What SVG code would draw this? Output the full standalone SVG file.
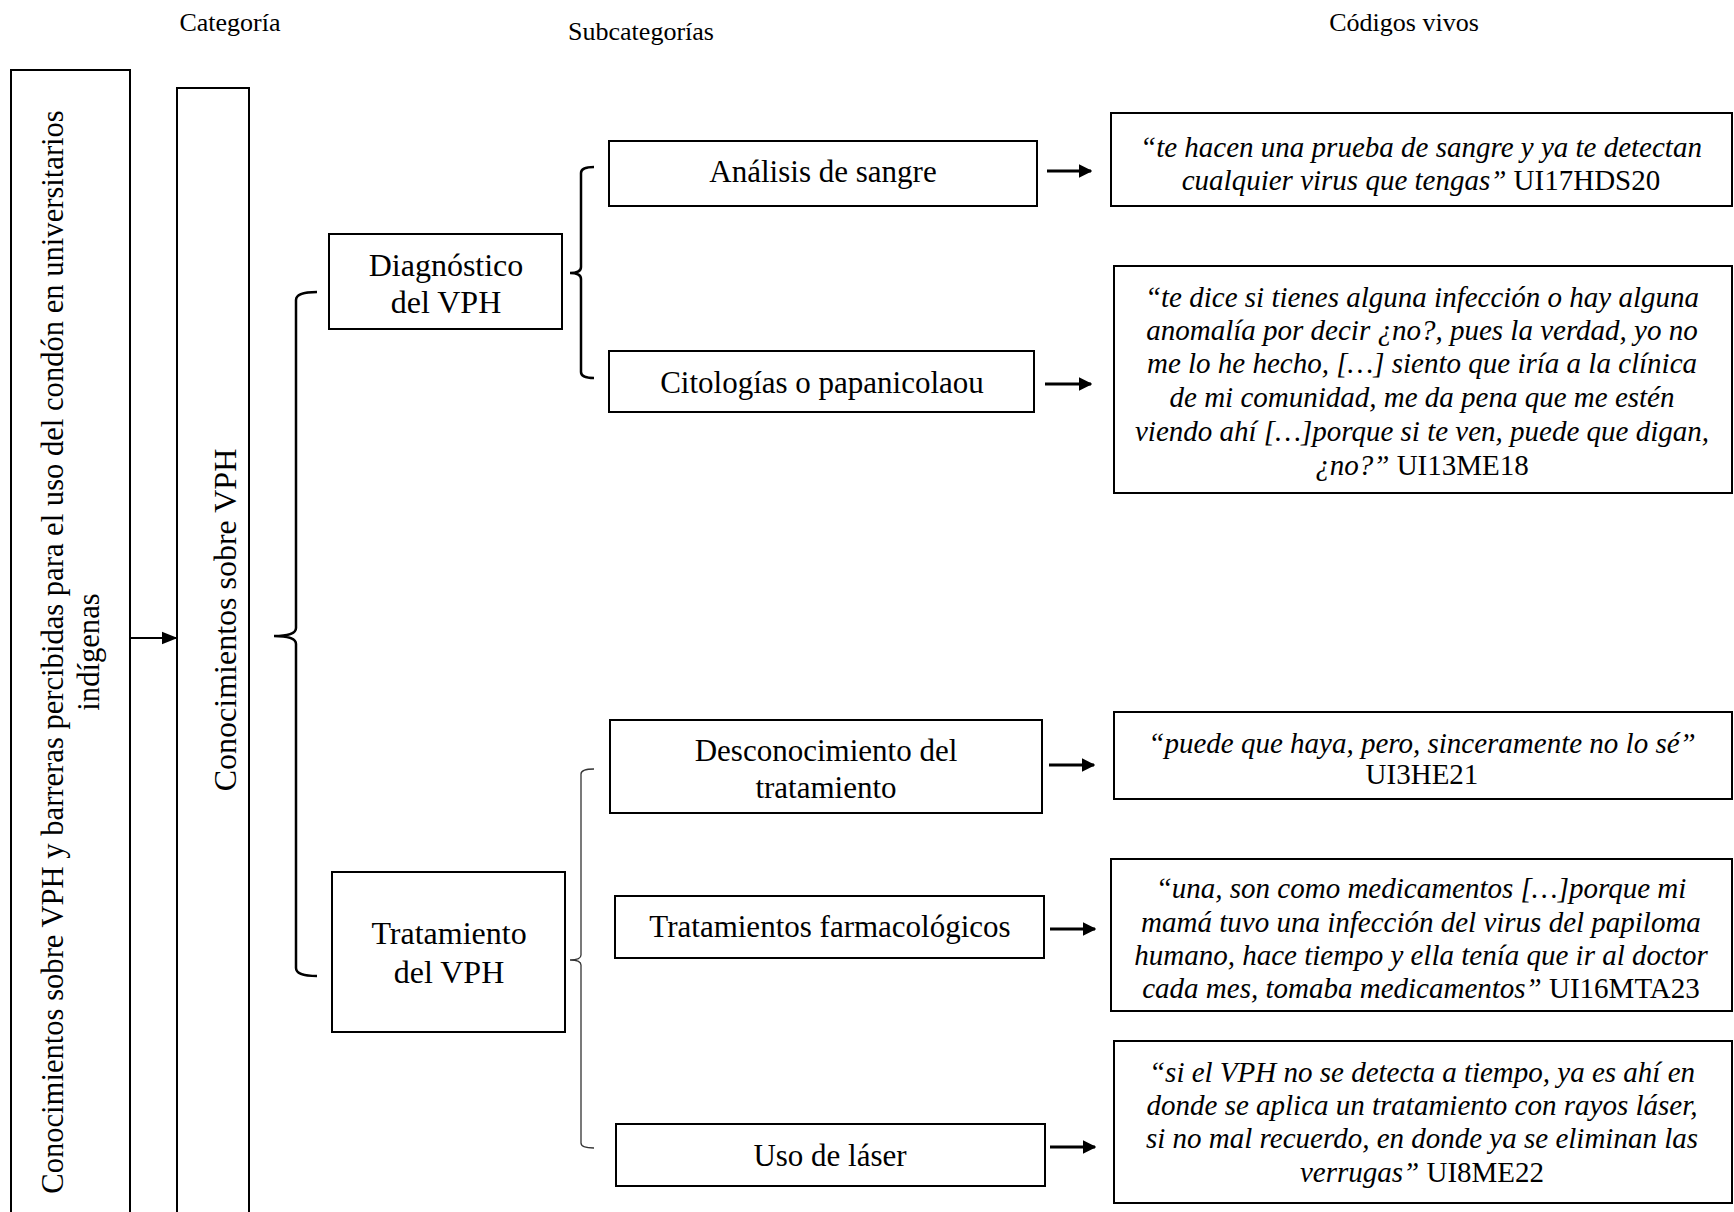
<svg xmlns="http://www.w3.org/2000/svg" width="1734" height="1212" viewBox="0 0 1734 1212">
  <style>
    text { font-family: "Liberation Serif", "Times New Roman", serif; fill: #000; }
    .hdr { font-size: 26px; text-anchor: middle; }
    .lbl { font-size: 31px; text-anchor: middle; }
    .cat { font-size: 32px; text-anchor: middle; }
    .theme { font-size: 30.6px; text-anchor: middle; }
    .q { font-size: 29px; text-anchor: middle; }
    .it { font-style: italic; }
    .box { fill: #fff; stroke: #000; stroke-width: 2; }
    .brace { fill: none; stroke: #000; stroke-width: 2.5; }
    .brace-thin { fill: none; stroke: #333; stroke-width: 1.3; }
    .arr { fill: none; stroke: #000; stroke-width: 3; marker-end: url(#head); }
    .arr-thin { fill: none; stroke: #000; stroke-width: 2; marker-end: url(#head2); }
  </style>
  <defs>
    <marker id="head" viewBox="0 0 10 10" refX="9" refY="5" markerWidth="4.5" markerHeight="4.5" orient="auto" markerUnits="strokeWidth">
      <path d="M0,0 L10,5 L0,10 Z" fill="#000"/>
    </marker>
    <marker id="head2" viewBox="0 0 10 10" refX="9" refY="5" markerWidth="8" markerHeight="8" orient="auto" markerUnits="strokeWidth">
      <path d="M0,1 L10,5 L0,9 Z" fill="#000"/>
    </marker>
  </defs>

  <rect width="1734" height="1212" fill="#fff"/>

  <!-- column headers -->
  <text class="hdr" x="230" y="31">Categoría</text>
  <text class="hdr" x="641" y="40">Subcategorías</text>
  <text class="hdr" x="1404" y="31">Códigos vivos</text>

  <!-- main theme -->
  <g id="theme">
    <rect class="box" x="11" y="70" width="119" height="1160"/>
    <text class="theme" transform="translate(63,652) rotate(-90)">Conocimientos sobre VPH y barreras percibidas para el uso del condón en universitarios</text>
    <text class="theme" transform="translate(99,652) rotate(-90)">indígenas</text>
  </g>

  <!-- category -->
  <g id="category">
    <rect class="box" x="177" y="88" width="72" height="1140"/>
    <text class="cat" transform="translate(236,620) rotate(-90)">Conocimientos sobre VPH</text>
  </g>

  <!-- subcategories -->
  <g id="diagnostico">
    <rect class="box" x="329" y="234" width="233" height="95"/>
    <text class="cat" x="446" y="276">Diagnóstico</text>
    <text class="cat" x="446" y="313">del VPH</text>
  </g>
  <g id="tratamiento">
    <rect class="box" x="332" y="872" width="233" height="160"/>
    <text class="cat" x="449" y="944">Tratamiento</text>
    <text class="cat" x="449" y="983">del VPH</text>
  </g>

  <g id="analisis">
    <rect class="box" x="609" y="141" width="428" height="65"/>
    <text class="lbl" x="823" y="182">Análisis de sangre</text>
  </g>
  <g id="citologias">
    <rect class="box" x="609" y="351" width="425" height="61"/>
    <text class="lbl" x="822" y="393">Citologías o papanicolaou</text>
  </g>
  <g id="desconocimiento">
    <rect class="box" x="610" y="720" width="432" height="93"/>
    <text class="lbl" x="826" y="761">Desconocimiento del</text>
    <text class="lbl" x="826" y="798">tratamiento</text>
  </g>
  <g id="farmacologicos">
    <rect class="box" x="615" y="896" width="429" height="62"/>
    <text class="lbl" x="830" y="937">Tratamientos farmacológicos</text>
  </g>
  <g id="laser">
    <rect class="box" x="616" y="1124" width="429" height="62"/>
    <text class="lbl" x="830" y="1166">Uso de láser</text>
  </g>

  <!-- quotes -->
  <g id="quote-analisis">
    <rect class="box" x="1111" y="113" width="621" height="93"/>
    <text class="q it" x="1421" y="157">“te hacen una prueba de sangre y ya te detectan</text>
    <text class="q" x="1421" y="190"><tspan class="it">cualquier virus que tengas”</tspan> UI17HDS20</text>
  </g>
  <g id="quote-citologias">
    <rect class="box" x="1114" y="266" width="618" height="227"/>
    <text class="q it" x="1422" y="307">“te dice si tienes alguna infección o hay alguna</text>
    <text class="q it" x="1422" y="340">anomalía por decir ¿no?, pues la verdad, yo no</text>
    <text class="q it" x="1422" y="373">me lo he hecho, […] siento que iría a la clínica</text>
    <text class="q it" x="1422" y="407">de mi comunidad, me da pena que me estén</text>
    <text class="q it" x="1422" y="441">viendo ahí […]porque si te ven, puede que digan,</text>
    <text class="q" x="1422" y="475"><tspan class="it">¿no?”</tspan> UI13ME18</text>
  </g>
  <g id="quote-desconocimiento">
    <rect class="box" x="1114" y="712" width="618" height="87"/>
    <text class="q it" x="1422" y="753">“puede que haya, pero, sinceramente no lo sé”</text>
    <text class="q" x="1422" y="784">UI3HE21</text>
  </g>
  <g id="quote-farmacologicos">
    <rect class="box" x="1111" y="859" width="621" height="152"/>
    <text class="q it" x="1421" y="898">“una, son como medicamentos […]porque mi</text>
    <text class="q it" x="1421" y="932">mamá tuvo una infección del virus del papiloma</text>
    <text class="q it" x="1421" y="965">humano, hace tiempo y ella tenía que ir al doctor</text>
    <text class="q" x="1421" y="998"><tspan class="it">cada mes, tomaba medicamentos”</tspan> UI16MTA23</text>
  </g>
  <g id="quote-laser">
    <rect class="box" x="1114" y="1041" width="618" height="162"/>
    <text class="q it" x="1422" y="1082">“si el VPH no se detecta a tiempo, ya es ahí en</text>
    <text class="q it" x="1422" y="1115">donde se aplica un tratamiento con rayos láser,</text>
    <text class="q it" x="1422" y="1148">si no mal recuerdo, en donde ya se eliminan las</text>
    <text class="q" x="1422" y="1182"><tspan class="it">verrugas”</tspan> UI8ME22</text>
  </g>

  <!-- connectors: braces and arrows -->
  <g id="connectors">
    <line class="arr-thin" x1="130" y1="638" x2="176" y2="638"/>
    <path class="brace" d="M317,292 Q296,292 296,300 L296,628 Q296,636 274,636 Q296,636 296,644 L296,968 Q296,976 317,976"/>
    <path class="brace" d="M594,167 Q581,167 581,173 L581,267 Q581,273 570,273 Q581,273 581,279 L581,372 Q581,378 594,378"/>
    <path class="brace-thin" d="M594,769 Q581,769 581,774 L581,955 Q581,960 570,960 Q581,960 581,965 L581,1143 Q581,1148 594,1148"/>
    <line class="arr" x1="1047" y1="171" x2="1091" y2="171"/>
    <line class="arr" x1="1045" y1="384" x2="1091" y2="384"/>
    <line class="arr" x1="1049" y1="765" x2="1094" y2="765"/>
    <line class="arr" x1="1050" y1="929" x2="1095" y2="929"/>
    <line class="arr" x1="1050" y1="1147" x2="1095" y2="1147"/>
  </g>
</svg>
